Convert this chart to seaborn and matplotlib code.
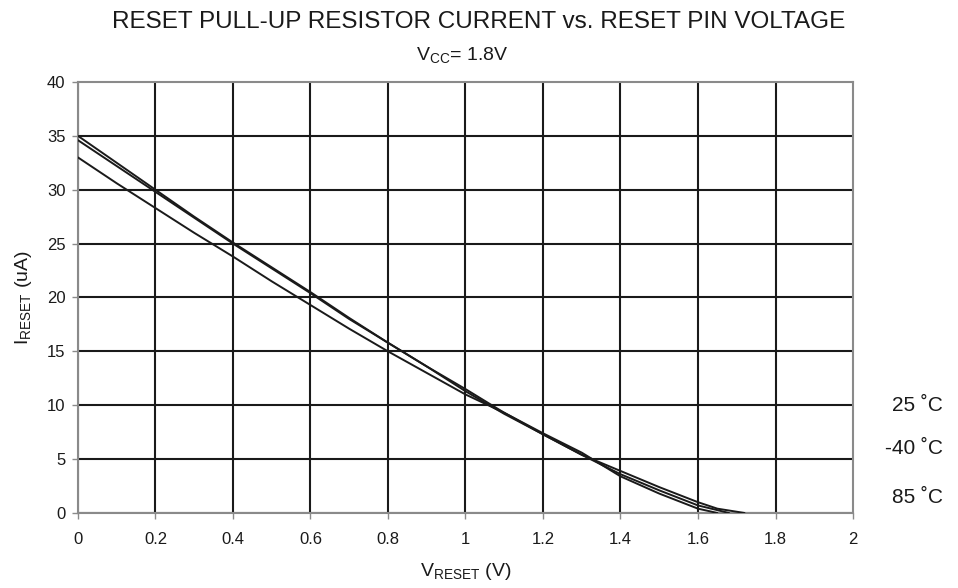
import matplotlib
matplotlib.use("Agg")
import matplotlib.pyplot as plt
import seaborn as sns
import pandas as pd

# Reset pin voltage (V) and pull-up current (uA) per temperature
v_25 = [0.0, 0.1, 0.2, 0.3, 0.4, 0.5, 0.6, 0.7, 0.8, 0.9, 1.0, 1.1, 1.2, 1.3, 1.4, 1.5, 1.6, 1.65, 1.72]
i_25 = [35.0, 32.5, 30.0, 27.5, 25.1, 22.8, 20.5, 18.1, 15.8, 13.6, 11.5, 9.3, 7.3, 5.4, 3.9, 2.4, 1.0, 0.4, 0.0]

v_m40 = [0.0, 0.1, 0.2, 0.3, 0.4, 0.5, 0.6, 0.7, 0.8, 0.9, 1.0, 1.1, 1.2, 1.3, 1.4, 1.5, 1.6, 1.68]
i_m40 = [34.6, 32.2, 29.8, 27.4, 25.0, 22.7, 20.4, 18.0, 15.8, 13.6, 11.3, 9.2, 7.3, 5.4, 3.6, 2.1, 0.7, 0.0]

v_85 = [0.0, 0.1, 0.2, 0.3, 0.4, 0.5, 0.6, 0.7, 0.8, 0.9, 1.0, 1.1, 1.2, 1.3, 1.4, 1.5, 1.6, 1.65]
i_85 = [33.0, 30.6, 28.3, 26.0, 23.8, 21.5, 19.3, 17.1, 15.0, 13.0, 11.0, 9.3, 7.4, 5.6, 3.4, 1.8, 0.4, 0.0]

temp_labels = ["25 ˚C", "-40 ˚C", "85 ˚C"]
label_y = [10.0, 6.0, 1.4]

x_ticks = [0, 0.2, 0.4, 0.6, 0.8, 1, 1.2, 1.4, 1.6, 1.8, 2]
x_tick_labels = ["0", "0.2", "0.4", "0.6", "0.8", "1", "1.2", "1.4", "1.6", "1.8", "2"]
y_ticks = [0, 5, 10, 15, 20, 25, 30, 35, 40]

frames = []
for lab, v, i in zip(temp_labels, [v_25, v_m40, v_85], [i_25, i_m40, i_85]):
    frames.append(pd.DataFrame({"V": v, "I": i, "T": lab}))
df = pd.concat(frames, ignore_index=True)

sns.set_theme(style="white")
plt.rcParams["font.family"] = ["Liberation Sans", "DejaVu Sans"]
plt.rcParams["mathtext.fontset"] = "custom"
plt.rcParams["mathtext.rm"] = "Liberation Sans"
plt.rcParams["mathtext.it"] = "Liberation Sans"

INK = "#1a1a1a"
FRAME = "#8a8a8a"

fig = plt.figure(figsize=(9.58, 5.88), dpi=100)
ax = fig.add_axes([0.0814, 0.1276, 0.8090, 0.7329])

# dark grid (outer top/right edges are left to the grey frame)
for xt in x_ticks[:-1]:
    ax.axvline(xt, color=INK, lw=1.5, zorder=2)
for yt in y_ticks[:-1]:
    ax.axhline(yt, color=INK, lw=1.5, zorder=2)

sns.lineplot(data=df, x="V", y="I", hue="T", units="T", estimator=None,
             sort=False, palette=[INK] * 3, linewidth=1.4,
             legend=False, ax=ax, zorder=3)

ax.set_xlim(0, 2)
ax.set_ylim(0, 40)
ax.set_xticks(x_ticks)
ax.set_xticklabels(x_tick_labels)
ax.set_yticks(y_ticks)
ax.tick_params(axis="both", which="both", direction="out", length=4, width=1,
               color=FRAME, labelsize=12, labelcolor=INK,
               bottom=True, left=True)
ax.tick_params(axis="x", pad=10)
ax.tick_params(axis="y", pad=5)
for s in ax.spines.values():
    s.set_color(FRAME)
    s.set_linewidth(1.5)

ax.set_xlabel(r"V$_{\mathrm{RESET}}$ (V)", fontsize=14, color=INK, labelpad=10)
ax.set_ylabel(r"I$_{\mathrm{RESET}}$ (uA)", fontsize=14, color=INK, labelpad=9)

fig.text(0.5, 0.963, "RESET PULL-UP RESISTOR CURRENT vs. RESET PIN VOLTAGE",
         ha="center", va="center", fontsize=17.5, color=INK)
fig.text(0.482, 0.907, r"V$_{\mathrm{CC}}$= 1.8V", ha="center", va="center",
         fontsize=14, color=INK)

for lab, yv in zip(temp_labels, label_y):
    ax.text(1.116, yv, lab, transform=ax.get_yaxis_transform(),
            ha="right", va="center", fontsize=15, color=INK)

fig.savefig("out.png", dpi=100)
